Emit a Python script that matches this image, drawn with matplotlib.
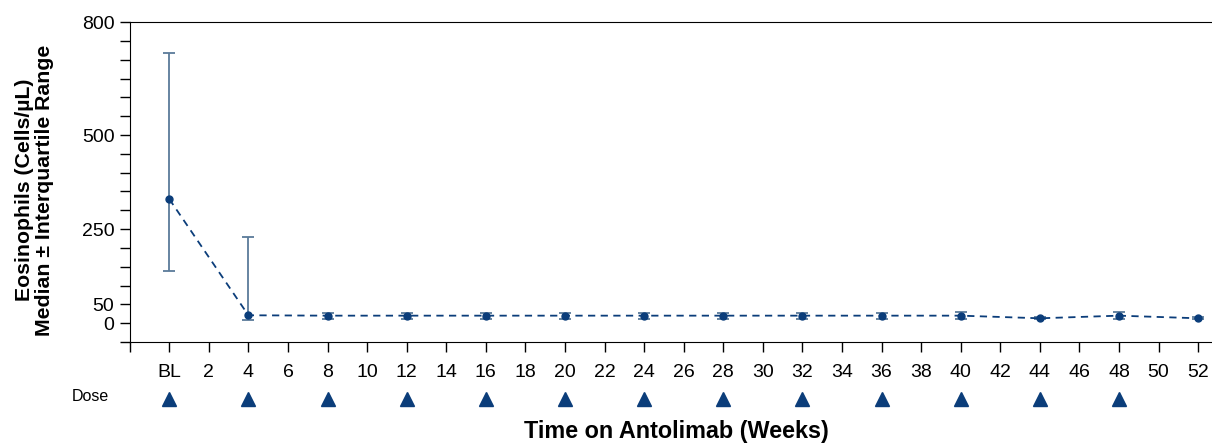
import numpy as np
import matplotlib.pyplot as plt
from matplotlib.ticker import FixedLocator, MultipleLocator

plt.rcParams['font.family'] = ['Liberation Sans', 'DejaVu Sans']

# data
weeks = [0, 4, 8, 12, 16, 20, 24, 28, 32, 36, 40, 44, 48, 52]
median = [330, 21, 20, 20, 20, 20, 20, 20, 20, 20, 20, 13, 20, 13]
q1 = [138, 8, 12, 10, 10, 12, 12, 12, 12, 12, 10, 10, 10, 10]
q3 = [718, 229, 26, 28, 28, 28, 28, 28, 28, 28, 30, 16, 30, 16]
dose_weeks = [0, 4, 8, 12, 16, 20, 24, 28, 32, 36, 40, 44, 48]

xtick_pos = list(range(0, 53, 2))
xtick_lab = ['BL'] + [str(w) for w in xtick_pos[1:]]
ytick_pos = [0, 50, 250, 500, 800]

blue = '#0b3d7a'
bar_col = '#5b7b9a'

fig = plt.figure(figsize=(12.12, 4.43), dpi=100)
ax = fig.add_axes([0.107, 0.228, 0.893, 0.722])

yerr = [np.array(median) - np.array(q1), np.array(q3) - np.array(median)]
ax.errorbar(weeks, median, yerr=yerr, fmt='none', ecolor=bar_col, elinewidth=1.3,
            capsize=4, capthick=1.3, zorder=2)
ax.plot(weeks, median, ls='--', color=blue, lw=1.3, dashes=(4, 3), zorder=3)
ax.plot(weeks, median, 'o', color=blue, ms=5, zorder=4)

ax.set_xlim(-2, 52.7)
ax.set_ylim(-50, 800)
ax.xaxis.set_major_locator(FixedLocator(xtick_pos))
ax.set_xticklabels(xtick_lab)
ax.xaxis.set_minor_locator(FixedLocator([-2]))
ax.yaxis.set_major_locator(FixedLocator(ytick_pos))
ax.yaxis.set_minor_locator(MultipleLocator(50))
ax.set_yticklabels([str(v) for v in ytick_pos])
ax.tick_params(axis='both', which='both', direction='out', length=7, width=1, pad=4,
               labelsize=14)
ax.tick_params(axis='x', pad=9)
ax.spines['right'].set_visible(False)

ax.set_ylabel('Eosinophils (Cells/µL)\nMedian ± Interquartile Range', fontsize=15.3,
              fontweight='bold', linespacing=1.05)
ax.yaxis.set_label_coords(-0.07, 0.475)

# dose row
dax = fig.add_axes([0.107, 0.07, 0.893, 0.06], sharex=ax)
dax.plot(dose_weeks, [0] * len(dose_weeks), '^', color=blue, ms=10, clip_on=False)
dax.set_ylim(-1, 1)
dax.axis('off')
fig.text(0.09, 0.104, 'Dose', ha='right', va='center', fontsize=11.5)

fig.text(0.558, 0.025, 'Time on Antolimab (Weeks)', ha='center', va='center',
         fontsize=16.8, fontweight='bold')

fig.savefig('out.png', dpi=100)
